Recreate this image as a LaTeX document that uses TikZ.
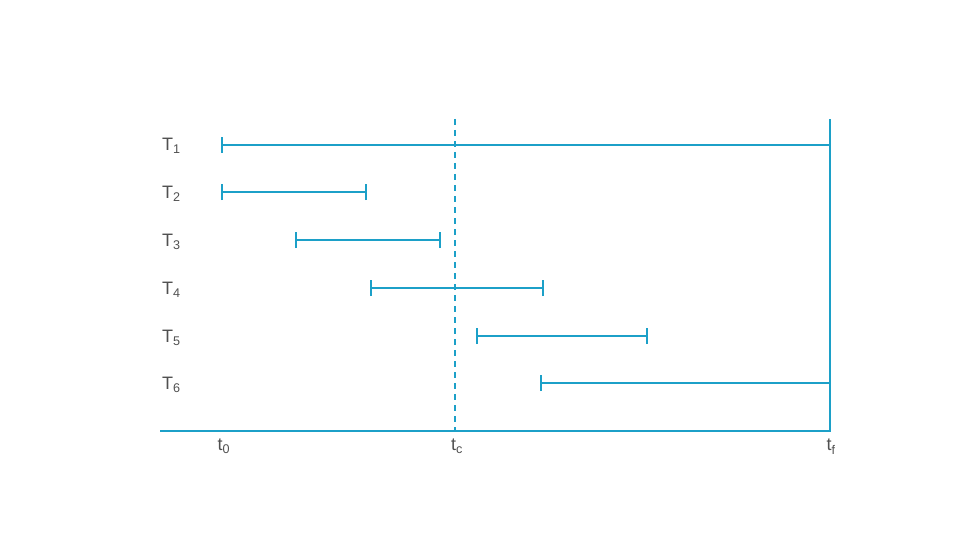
\documentclass[tikz,border=0pt]{standalone}
\usepackage{fontspec}
\setmainfont{Liberation Sans}
\definecolor{bl}{RGB}{28,160,200}
\definecolor{tx}{RGB}{80,80,80}
\begin{document}
\begin{tikzpicture}[x=1pt,y=-1pt,
  thk/.style={bl,line width=2.6pt},
  thn/.style={bl,line width=1.3pt},
  lab/.style={text=tx,font=\fontsize{18}{20}\selectfont,inner sep=0pt},
  tlab/.style={text=tx,font=\fontsize{18}{20}\selectfont,inner sep=0pt,anchor=north}]
\useasboundingbox (0,0) rectangle (960,540);
% axes
\coordinate (ax0) at (160,431);
\coordinate (axR) at (830,431);
\coordinate (axTop) at (830,119);
\draw[bl,line width=2.8pt] (ax0) -- (axR) -- (axTop);
% dashed tc
\coordinate (tcTop) at (455,119);
\coordinate (tcBot) at (455,431);
\draw[bl,line width=1.1pt,dash pattern=on 6pt off 5pt] (tcTop) -- (tcBot);
% T1
\coordinate (a1) at (222,145); \coordinate (b1) at (830,145);
\draw[thk] (a1) -- (b1);
\draw[thn] ([yshift=-8]a1) -- ([yshift=8]a1);
% T2
\coordinate (a2) at (222,192); \coordinate (b2) at (366,192);
\draw[thn] (a2) -- (b2);
\draw[thn] ([yshift=-8]a2) -- ([yshift=8]a2);
\draw[thn] ([yshift=-8]b2) -- ([yshift=8]b2);
% T3
\coordinate (a3) at (296,240); \coordinate (b3) at (440,240);
\draw[thn] (a3) -- (b3);
\draw[thk] ([yshift=-8]a3) -- ([yshift=8]a3);
\draw[thk] ([yshift=-8]b3) -- ([yshift=8]b3);
% T4
\coordinate (a4) at (371,288); \coordinate (b4) at (543,288);
\draw[thk] (a4) -- (b4);
\draw[thk] ([yshift=-8]a4) -- ([yshift=8]a4);
\draw[thk] ([yshift=-8]b4) -- ([yshift=8]b4);
% T5
\coordinate (a5) at (477,336); \coordinate (b5) at (647,336);
\draw[thn] (a5) -- (b5);
\draw[thk] ([yshift=-8]a5) -- ([yshift=8]a5);
\draw[thk] ([yshift=-8]b5) -- ([yshift=8]b5);
% T6
\coordinate (a6) at (541,383); \coordinate (b6) at (830,383);
\draw[thk] (a6) -- (b6);
\draw[thn] ([yshift=-8]a6) -- ([yshift=8]a6);
% labels
\node[lab,anchor=west] (L1) at (162,146) {T\textsubscript{1}};
\node[lab,anchor=west] (L2) at (162,194) {T\textsubscript{2}};
\node[lab,anchor=west] (L3) at (162,242) {T\textsubscript{3}};
\node[lab,anchor=west] (L4) at (162,290) {T\textsubscript{4}};
\node[lab,anchor=west] (L5) at (162,338) {T\textsubscript{5}};
\node[lab,anchor=west] (L6) at (162,385) {T\textsubscript{6}};
\node[tlab] (t0) at (224,439) {t\textsubscript{0}};
\node[tlab] (tc) at (457,439) {t\textsubscript{c}};
\node[tlab] (tf) at (831,439) {t\textsubscript{f}};
\end{tikzpicture}
\end{document}
